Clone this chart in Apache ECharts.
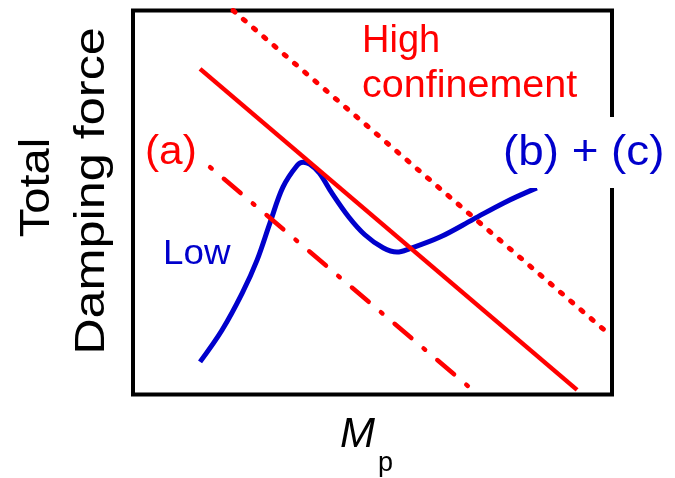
<!DOCTYPE html>
<html>
<head>
<meta charset="utf-8">
<script src="https://cdn.jsdelivr.net/npm/echarts@6/dist/echarts.min.js"></script>
<style>
  html, body { margin: 0; padding: 0; background: #fff; }
  #chart { width: 675px; height: 478px; }
</style>
</head>
<body>
<div id="chart"></div>
<script>
// Schematic: total damping force versus Mp (arbitrary units, 0-100 on both axes)
var lowCurve = [
  [14.0, 8.5], [18.6, 16.8], [22.8, 26.4], [25.9, 35.0], [28.6, 44.7],
  [31.3, 54.0], [34.3, 59.7], [35.5, 60.5], [36.9, 60.0], [38.9, 57.7],
  [41.5, 52.5], [45.0, 46.3], [48.4, 41.6], [52.2, 38.2], [55.1, 37.1],
  [57.8, 38.0], [64.1, 41.0], [71.0, 45.6], [77.4, 49.9], [84.3, 53.8]
];
var solidLine = [[14.0, 84.8], [92.7, 1.2]];
var dottedLine = [[20.9, 100], [99.6, 15.5]];
var dashDotLine = [[16.1, 59.2], [70.4, 1.7]];

var RED = '#ff0000';
var BLUE = '#0000cc';
var FONT = '"Liberation Sans", Arial, sans-serif';

function label(text, x, y, size, color, opts) {
  opts = opts || {};
  return {
    type: 'text',
    x: x,
    y: y,
    rotation: opts.rotation || 0,
    scaleX: opts.scaleX || 1,
    z: 110,
    style: {
      text: text,
      fill: color,
      font: (opts.italic ? 'italic ' : '') + size + 'px ' + FONT,
      textAlign: opts.align || 'left',
      textVerticalAlign: 'middle'
    }
  };
}

var chart = echarts.init(document.getElementById('chart'), null, { renderer: 'canvas' });
chart.setOption({
  animation: false,
  backgroundColor: '#fff',
  grid: {
    left: 133, top: 10.5, width: 479, height: 384,
    show: true, borderColor: '#000', borderWidth: 4,
    backgroundColor: 'transparent'
  },
  xAxis: { type: 'value', min: 0, max: 100, show: false },
  yAxis: { type: 'value', min: 0, max: 100, show: false },
  series: [
    {
      type: 'line', data: lowCurve, smooth: 0.35, symbol: 'none',
      lineStyle: { color: BLUE, width: 5 }
    },
    {
      type: 'line', data: solidLine, symbol: 'none',
      lineStyle: { color: RED, width: 4.5 }
    },
    {
      type: 'line', data: dottedLine, symbol: 'none',
      lineStyle: { color: RED, width: 5, type: [2.5, 11], cap: 'round' }
    },
    {
      type: 'line', data: dashDotLine, symbol: 'none',
      lineStyle: { color: RED, width: 4.5, type: [2, 16, 22, 16], cap: 'round' }
    }
  ],
  graphic: [
    // white patch behind the "(b) + (c)" label, breaking the frame
    {
      type: 'rect', z: 100,
      shape: { x: 495, y: 117, width: 180, height: 71 },
      style: { fill: '#fff' }
    },
    label('High', 362, 41.5, 38, RED),
    label('confinement', 362, 86.5, 38, RED, { scaleX: 1.04 }),
    label('(a)', 145, 153, 40, RED, { scaleX: 1.06 }),
    label('(b) + (c)', 503, 153, 42, BLUE, { scaleX: 1.09 }),
    label('Low', 163, 254.5, 35, BLUE, { scaleX: 1.05 }),
    label('Total', 37, 187.5, 42, '#000', { rotation: Math.PI / 2, align: 'center', scaleX: 1.12 }),
    label('Damping force', 92, 191, 42, '#000', { rotation: Math.PI / 2, align: 'center', scaleX: 1.2 }),
    label('M', 340, 435, 42, '#000', { italic: true }),
    label('p', 378, 464, 27, '#000')
  ]
});
</script>
</body>
</html>
